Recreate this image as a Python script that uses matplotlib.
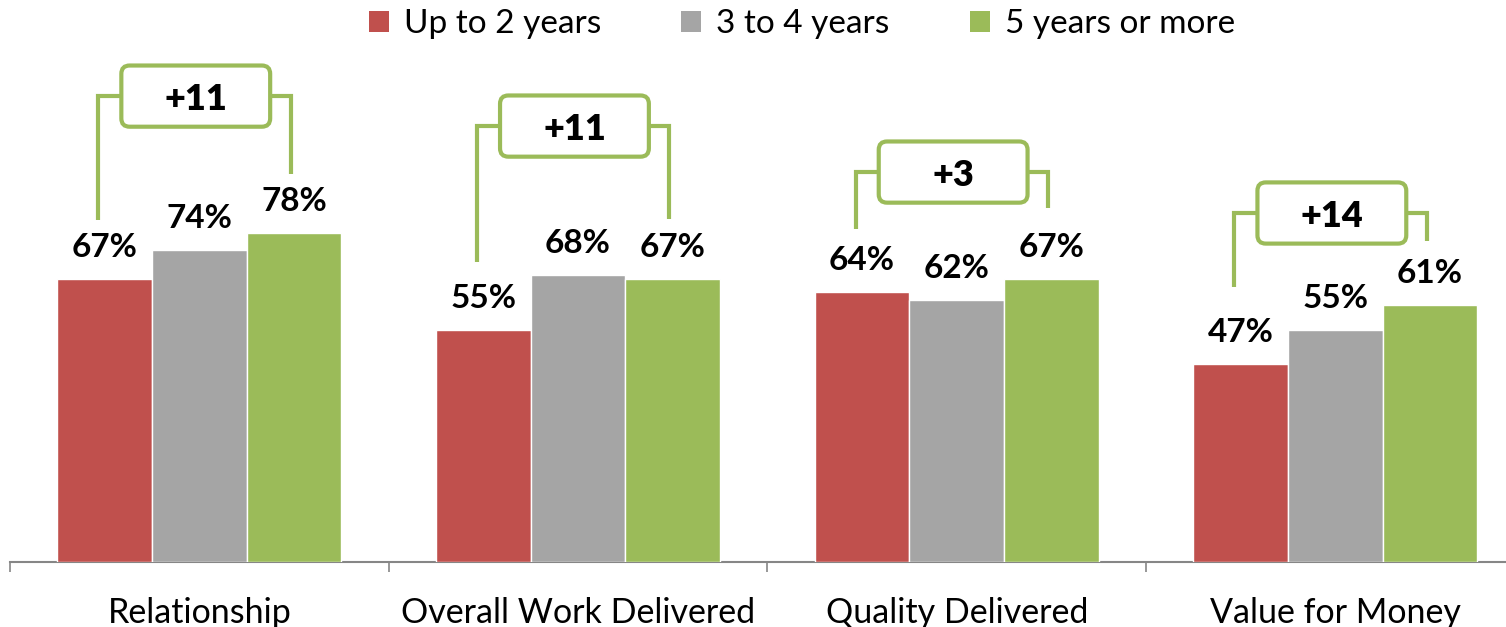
import matplotlib
matplotlib.use("Agg")
from matplotlib import pyplot as plt
from matplotlib.patches import Patch, FancyBboxPatch
import numpy as np

categories = ["Relationship", "Overall Work Delivered", "Quality Delivered", "Value for Money"]
series_names = ["Up to 2 years", "3 to 4 years", "5 years or more"]
up_to_2 = [67, 55, 64, 47]
three_to_4 = [74, 68, 62, 55]
five_plus = [78, 67, 67, 61]
diff_labels = ["+11", "+11", "+3", "+14"]

# bracket layout (data units on the value axis)
bracket_top = [110.4, 103.3, 92.4, 82.7]
bracket_left_end = [81.0, 71.1, 78.9, 65.2]
bracket_right_end = [91.9, 81.3, 83.9, 76.1]

colors = ["#C0504D", "#A5A5A5", "#9BBB59"]
bracket_color = "#9BBB59"
font = "Lato"

W, H, DPI = 1506, 627, 100
fig = plt.figure(figsize=(W / DPI, H / DPI), dpi=DPI)

x0_px, group_px, base_px, px_per_unit = 10, 378.7, 562, 4.22
ymax = base_px / px_per_unit
ax = fig.add_axes([x0_px / W, (H - base_px) / H, 4 * group_px / W, base_px / H])
ax.set_xlim(-0.5, 3.5)
ax.set_ylim(0, ymax)

x = np.arange(len(categories))
width = 0.25
for i, (vals, c, name) in enumerate(zip([up_to_2, three_to_4, five_plus], colors, series_names)):
    xs = x + (i - 1) * width
    ax.bar(xs, vals, width, color=c, edgecolor="white", linewidth=1, zorder=3, label=name)
    for xi, v in zip(xs, vals):
        ax.annotate(f"{v}%", (xi, v), xytext=(0, 15.8), textcoords="offset points",
                    ha="center", va="baseline", fontsize=24, fontweight="bold",
                    family=font, color="black")

# brackets with rounded boxes
aspect = (ymax / (base_px)) / (4.0 / (4 * group_px))
box_l, box_r = -0.206, 0.187
box_h = 14.5
lw = 3
for i in range(len(categories)):
    xl = x[i] - 0.267
    xr = x[i] + 0.241
    top = bracket_top[i]
    ax.plot([xl, xl, x[i] + box_l], [bracket_left_end[i], top, top], color=bracket_color,
            lw=lw, solid_joinstyle="miter", solid_capstyle="butt", zorder=4)
    ax.plot([x[i] + box_r, xr, xr], [top, top, bracket_right_end[i]], color=bracket_color,
            lw=lw, solid_joinstyle="miter", solid_capstyle="butt", zorder=4)
    box = FancyBboxPatch((x[i] + box_l, top - box_h / 2), box_r - box_l, box_h,
                         boxstyle="round,pad=0,rounding_size=0.022", mutation_aspect=aspect,
                         facecolor="white", edgecolor=bracket_color, lw=lw, zorder=5)
    ax.add_patch(box)
    ax.text(x[i] + (box_l + box_r) / 2, top, diff_labels[i], ha="center", va="center_baseline",
            fontsize=26, fontweight="heavy", family=font, zorder=6)

for s in ["top", "left", "right"]:
    ax.spines[s].set_visible(False)
ax.spines["bottom"].set_color("#868686")
ax.spines["bottom"].set_linewidth(1.5)
ax.set_yticks([])
ax.set_xticks(np.arange(-0.5, 4.0, 1.0))
ax.set_xticklabels([])
ax.set_xticks(x, minor=True)
ax.set_xticklabels(categories, minor=True, fontsize=24.5, family=font)
ax.tick_params(axis="x", which="major", length=7, width=1.2, color="#868686", direction="out")
ax.tick_params(axis="x", which="minor", length=0, pad=25)

handles = [Patch(facecolor=c, edgecolor="none") for c in colors]
fig.legend(handles, series_names, loc="center", bbox_to_anchor=(802 / W, 1 - 24 / H), ncol=3,
           frameon=False, prop={"family": font, "size": 24}, handlelength=0.6, handleheight=0.6,
           handletextpad=0.45, columnspacing=2.4, borderaxespad=0, borderpad=0)

fig.savefig("out.png", dpi=DPI)
